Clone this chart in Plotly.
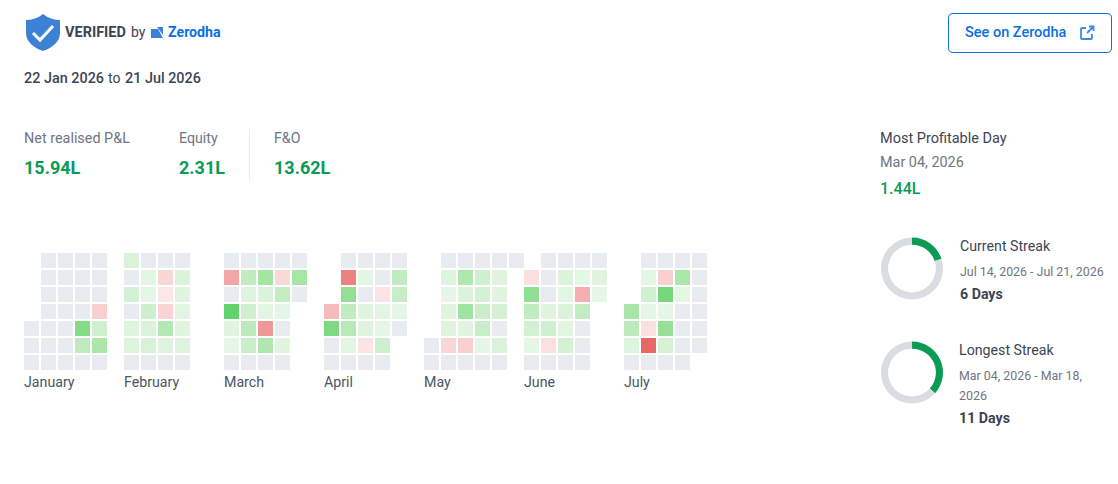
import plotly.graph_objects as go

N = None
month_names = ["January", "February", "March", "April", "May", "June", "July"]
# Daily P&L in thousands (rows Sunday to Saturday, columns are weeks); 0 = no trades
january = [[N,0,0,0,0],[N,0,0,0,0],[N,0,0,0,0],[N,0,0,0,-20],[0,0,0,100,25],[0,0,0,40,55],[0,0,0,0,0]]
february = [[18,0,0,0],[0,12,-16,17],[22,10,-8,14],[0,27,-18,12],[15,18,50,14],[16,20,15,15],[0,0,0,0]]
march = [[0,0,0,0,0],[-52,38,62,-15,60],[0,15,18,35,0],[144,25,12,10,N],[14,42,-62,0,N],[9,30,52,14,N],[0,0,0,0,N]]
april = [[N,0,0,0,0],[N,-75,12,0,38],[N,82,0,-9,33],[-38,38,14,12,9],[110,45,15,10,0],[0,12,-9,25,N],[0,0,0,0,N]]
may = [[N,0,0,0,0,0],[N,16,52,26,14,N],[N,9,17,22,14,N],[N,14,68,30,22,N],[N,15,14,32,0,N],[0,-16,-20,9,18,N],[0,0,0,0,0,N]]
june = [[N,0,0,0,0],[-12,0,18,11,14],[85,0,12,-45,10],[38,14,17,36,N],[23,26,13,0,N],[11,-11,22,0,N],[0,0,0,0,N]]
july = [[N,0,0,0,0],[N,11,-20,55,0],[N,24,118,11,0],[58,9,9,0,0],[42,-11,78,0,0],[16,-90,21,0,0],[0,0,0,0,N]]
months = [january, february, march, april, may, june, july]

streak_days = [6, 11]
streak_rest = [24, 19]

GREEN = "#0A9B55"
DARK = "#3D4454"
GRAY = "#70757F"
BLUE = "#0B6FE0"
FONT = "Roboto"

def stop(v):
    return (v + 144) / 288

colorscale = [
    [0, "#E86060"],
    [stop(-90), "#EA6767"],
    [stop(-60), "#F09A9A"],
    [stop(-40), "#F5B7B7"],
    [stop(-20), "#F9D0D0"],
    [stop(-5), "#FDEBEB"],
    [stop(-0.5), "#FDEBEB"],
    [stop(-0.4), "#E8EBF0"],
    [stop(0.4), "#E8EBF0"],
    [stop(0.5), "#EAF7EA"],
    [stop(10), "#E6F6E6"],
    [stop(25), "#CFF0CF"],
    [stop(40), "#BEEBBE"],
    [stop(60), "#A5E5A5"],
    [stop(85), "#90DF92"],
    [stop(110), "#7CDA80"],
    [1, "#62D26A"],
]

fig = go.Figure()
CELL = 17
for i, rows in enumerate(months):
    fig.add_trace(go.Heatmap(
        z=rows, x0=31.5 + 100 * i, dx=CELL, y0=260.5, dy=CELL,
        xgap=2, ygap=2, zmin=-144, zmax=144, colorscale=colorscale,
        showscale=False, hoverongaps=False,
    ))

centers_y = [268.5, 372.5]
R = 31
for days, rest, cy in zip(streak_days, streak_rest, centers_y):
    fig.add_trace(go.Pie(
        values=[days, rest], sort=False, direction="clockwise", rotation=0,
        hole=0.77, textinfo="none", showlegend=False, hoverinfo="skip",
        marker=dict(colors=[GREEN, "#D9DDE3"], line=dict(width=0)),
        domain=dict(x=[(912 - R) / 1118, (912 + R) / 1118],
                    y=[1 - (cy + R) / 484, 1 - (cy - R) / 484]),
    ))

def text(x, y, s, size=14, color=DARK, weight=400):
    fig.add_annotation(x=x - 1, y=y, text=s, xref="x", yref="y", showarrow=False,
                       xanchor="left", yanchor="middle", borderpad=0,
                       font=dict(family=FONT, size=size, color=color, weight=weight))

text(65, 32, "VERIFIED", 14.5, DARK, 700)
text(131, 32, "by", 14, DARK, 400)
text(167.5, 32, "Zerodha", 14.2, BLUE, 700)
text(24, 78, "22 Jan 2026", 14.4, DARK, 500)
text(108, 78, "to", 14, DARK, 400)
text(124.5, 78, "21 Jul 2026", 14.4, DARK, 500)
text(24, 138, "Net realised P&L", 14.4, GRAY)
text(179, 138, "Equity", 14.2, GRAY)
text(274, 138, "F&O", 14.2, GRAY)
text(24, 167, "15.94L", 18, GREEN, 700)
text(179, 167, "2.31L", 18, GREEN, 700)
text(274, 167, "13.62L", 18, GREEN, 700)
text(965, 32, "See on Zerodha", 14.5, BLUE, 500)
for i, name in enumerate(month_names):
    text(24 + 100 * i, 382, name, 14.2, "#4B5563")
text(880, 138, "Most Profitable Day", 14.5, DARK)
text(880, 162, "Mar 04, 2026", 14.4, GRAY)
text(880, 188, "1.44L", 16, GREEN, 500)
text(960, 246, "Current Streak", 14.2, DARK)
text(960, 271, "Jul 14, 2026 - Jul 21, 2026", 12.4, GRAY)
text(960, 294, "6 Days", 14.2, DARK, 700)
text(959, 350, "Longest Streak", 14.2, DARK)
text(959, 375, "Mar 04, 2026 - Mar 18,", 12.4, GRAY)
text(959, 395, "2026", 12.4, GRAY)
text(959, 418, "11 Days", 14.2, DARK, 700)

shapes = [
    # shield
    dict(type="path", path="M 43 14 C 48 18 54 20 60 20 L 60 33 C 60 42 52 48 43 51 C 34 48 26 42 26 33 L 26 20 C 32 20 38 18 43 14 Z",
         fillcolor="#3B82D6", line=dict(width=0)),
    dict(type="path", path="M 33 33 L 40 40 L 53 26", line=dict(color="white", width=3)),
    # Zerodha mark
    dict(type="path", path="M 151 29 L 158 29 L 163 38 L 151 38 Z", fillcolor="#3B82D6", line=dict(width=0)),
    dict(type="path", path="M 157 27 L 163 27 L 163 35 Z", fillcolor="#3B82D6", line=dict(width=0)),
    # button
    dict(type="path", path="M 953 13.5 L 1107 13.5 Q 1111.5 13.5 1111.5 18 L 1111.5 48 Q 1111.5 52.5 1107 52.5 L 953 52.5 Q 948.5 52.5 948.5 48 L 948.5 18 Q 948.5 13.5 953 13.5 Z",
         line=dict(color=BLUE, width=1)),
    # external link icon
    dict(type="path", path="M 1086 28 L 1082 28 Q 1081 28 1081 29 L 1081 38 Q 1081 39 1082 39 L 1091 39 Q 1092 39 1092 38 L 1092 34",
         line=dict(color="#3B8AE6", width=1.8)),
    dict(type="path", path="M 1087 33 L 1093.5 26.5 M 1089 26.5 L 1093.5 26.5 L 1093.5 31", line=dict(color="#3B8AE6", width=1.8)),
    # divider
    dict(type="line", x0=249.5, x1=249.5, y0=129, y1=181, line=dict(color="#E8EBF0", width=1)),
]
for s in shapes:
    s.update(xref="x", yref="y")
fig.update_layout(
    shapes=shapes, width=1118, height=484, margin=dict(l=0, r=0, t=0, b=0),
    paper_bgcolor="white", plot_bgcolor="white",
    xaxis=dict(range=[0, 1118], visible=False, domain=[0, 1], fixedrange=True),
    yaxis=dict(range=[484, 0], visible=False, domain=[0, 1], fixedrange=True),
)
fig.write_html("out.html", post_script="document.body.style.margin='0';document.body.style.overflow='hidden';",
               config=dict(displayModeBar=False))
